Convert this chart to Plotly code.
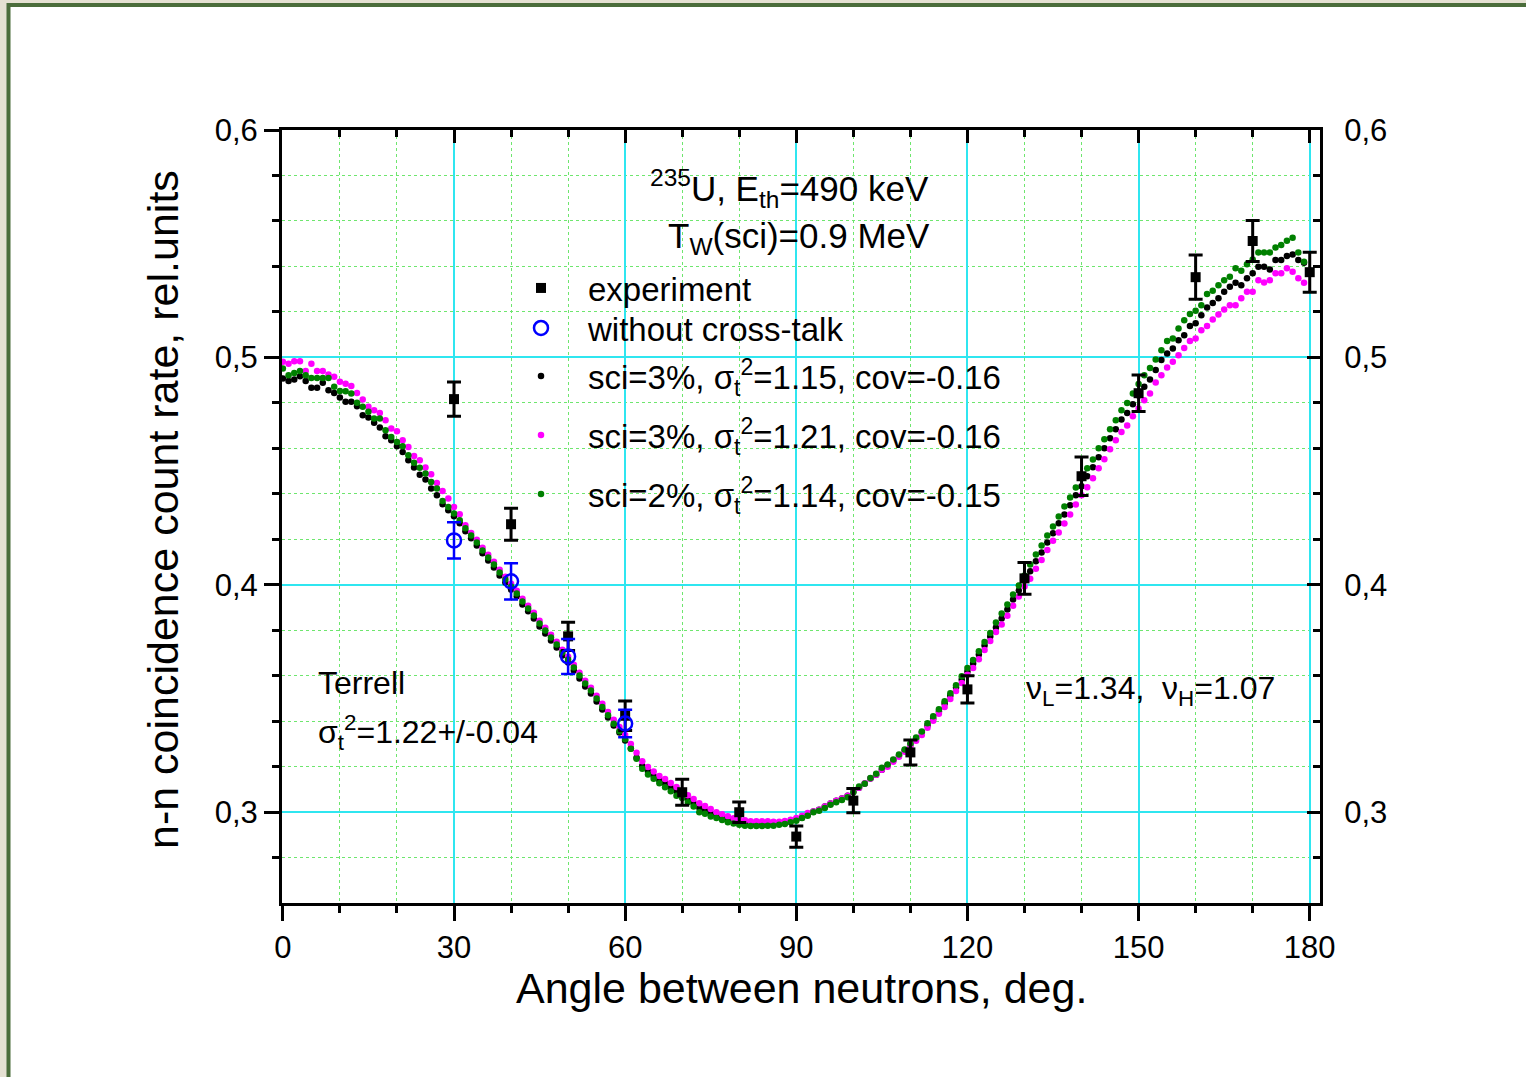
import plotly.graph_objects as go

# ---------------- data ----------------
x_tickvals = [0, 30, 60, 90, 120, 150, 180]
x_ticktext = ["0", "30", "60", "90", "120", "150", "180"]
y_tickvals = [0.3, 0.4, 0.5, 0.6]
y_ticktext = ["0,3", "0,4", "0,5", "0,6"]

exp_angle = [30, 40, 50, 60, 70, 80, 90, 100, 110, 120, 130, 140, 150, 160, 170, 180]
exp_rate = [0.4817, 0.4267, 0.3774, 0.3425, 0.3089, 0.3001, 0.2894, 0.3052,
            0.3264, 0.3541, 0.4029, 0.4478, 0.4843, 0.5353, 0.5512, 0.5375]
exp_err = [0.0075, 0.0070, 0.0062, 0.0065, 0.0057, 0.0045, 0.0047, 0.0053,
           0.0055, 0.0060, 0.0070, 0.0085, 0.0080, 0.0097, 0.0090, 0.0088]

nct_angle = [30, 40, 50, 60]
nct_rate = [0.4196, 0.4016, 0.3686, 0.3391]
nct_err = [0.0080, 0.0080, 0.0077, 0.0060]

# sci=3%, sigma_t^2=1.15, cov=-0.16 (black), one value per degree 0..179
calc_black = [
    0.4908, 0.4897, 0.4903, 0.4918, 0.4897, 0.4867, 0.4867, 0.4889, 0.4856, 0.4844,
    0.4824, 0.4805, 0.4805, 0.4786, 0.4746, 0.4736, 0.4713, 0.4692, 0.4654, 0.4636,
    0.4610, 0.4585, 0.4548, 0.4516, 0.4485, 0.4464, 0.4424, 0.4394, 0.4355,
    0.4328, 0.4302, 0.4271, 0.4236, 0.4205, 0.4174, 0.4139, 0.4108, 0.4077, 0.4042,
    0.4011, 0.3980, 0.3950, 0.3914, 0.3884, 0.3853, 0.3818, 0.3787, 0.3756, 0.3725,
    0.3690, 0.3659, 0.3624, 0.3589, 0.3554, 0.3523, 0.3488, 0.3453, 0.3417, 0.3382,
    0.3351, 0.3316,
    0.3281, 0.3240, 0.3205, 0.3180, 0.3160, 0.3140, 0.3127, 0.3109, 0.3092, 0.3074,
    0.3056, 0.3039, 0.3021, 0.3008, 0.2995, 0.2986, 0.2977, 0.2968, 0.2960, 0.2955,
    0.2951, 0.2946, 0.2946, 0.2946, 0.2946, 0.2951, 0.2951, 0.2955, 0.2960, 0.2968,
    0.2977, 0.2990, 0.3004, 0.3012, 0.3026, 0.3039, 0.3052, 0.3061, 0.3074, 0.3092,
    0.3109, 0.3127, 0.3149, 0.3166, 0.3188, 0.3206,
    0.3228, 0.3250, 0.3272, 0.3298, 0.3325, 0.3351, 0.3382, 0.3413, 0.3444, 0.3479,
    0.3514, 0.3549, 0.3584, 0.3620, 0.3655, 0.3694, 0.3734, 0.3774, 0.3813, 0.3853,
    0.3892, 0.3936, 0.3976, 0.4020, 0.4060, 0.4104, 0.4143, 0.4187, 0.4227, 0.4271,
    0.4310, 0.4350, 0.4394, 0.4434, 0.4478, 0.4517, 0.4561, 0.4601, 0.4645, 0.4684,
    0.4727, 0.4756, 0.4794, 0.4833, 0.4871, 0.4903, 0.4945, 0.4989, 0.5018, 0.5040,
    0.5076, 0.5098, 0.5138, 0.5150, 0.5186, 0.5220, 0.5240, 0.5260, 0.5289, 0.5311,
    0.5328, 0.5318, 0.5348, 0.5370, 0.5399, 0.5399, 0.5387, 0.5428, 0.5428, 0.5446,
    0.5453, 0.5428, 0.5416,
]

# sci=3%, sigma_t^2=1.21, cov=-0.16 (magenta)
calc_magenta = [
    0.4981, 0.4973, 0.4984, 0.4984, 0.4941, 0.4973, 0.4941, 0.4941, 0.4925, 0.4915,
    0.4893, 0.4885, 0.4875, 0.4844, 0.4815, 0.4783, 0.4768, 0.4756, 0.4724, 0.4688,
    0.4676, 0.4636, 0.4607, 0.4567, 0.4548, 0.4516, 0.4487, 0.4448, 0.4413, 0.4380,
    0.4343,
    0.4311, 0.4262, 0.4228, 0.4199, 0.4164, 0.4133, 0.4102, 0.4067, 0.4036, 0.4005,
    0.3975, 0.3939, 0.3909, 0.3878, 0.3843, 0.3812, 0.3781, 0.3750, 0.3715, 0.3684,
    0.3649, 0.3614, 0.3579, 0.3548, 0.3513, 0.3478, 0.3442, 0.3407, 0.3376, 0.3341,
    0.3301, 0.3262, 0.3225, 0.3200, 0.3180, 0.3160, 0.3147, 0.3129, 0.3112, 0.3094,
    0.3076, 0.3059, 0.3041, 0.3028, 0.3015, 0.3001, 0.2992, 0.2983, 0.2975, 0.2970,
    0.2966, 0.2961, 0.2961, 0.2961, 0.2961, 0.2959, 0.2959, 0.2963, 0.2968, 0.2976,
    0.2985, 0.2998,
    0.3004, 0.3012, 0.3026, 0.3039, 0.3052, 0.3061, 0.3074, 0.3092, 0.3109, 0.3127,
    0.3149, 0.3166, 0.3188,
    0.3201, 0.3223, 0.3245, 0.3267, 0.3293, 0.3315, 0.3341, 0.3372, 0.3403, 0.3434,
    0.3464, 0.3499, 0.3534, 0.3569, 0.3605, 0.3635, 0.3674, 0.3714, 0.3754, 0.3793,
    0.3826, 0.3865, 0.3909, 0.3949, 0.3993, 0.4027, 0.4071, 0.4110, 0.4154, 0.4194,
    0.4231, 0.4270, 0.4310, 0.4354, 0.4394, 0.4430, 0.4469, 0.4513, 0.4553, 0.4597,
    0.4636,
    0.4672, 0.4701,
    0.4742, 0.4776, 0.4812, 0.4842, 0.4890, 0.4922, 0.4956, 0.4981, 0.5010, 0.5042,
    0.5073, 0.5083, 0.5120, 0.5138, 0.5167, 0.5189, 0.5211, 0.5230, 0.5230, 0.5260,
    0.5289, 0.5289, 0.5340, 0.5330, 0.5340, 0.5370, 0.5370, 0.5392, 0.5377, 0.5348,
    0.5328,
]

# sci=2%, sigma_t^2=1.14, cov=-0.15 (green)
calc_green = [
    0.4952, 0.4922, 0.4932, 0.4941, 0.4922, 0.4910, 0.4910, 0.4910, 0.4910, 0.4871,
    0.4853, 0.4852, 0.4842, 0.4801, 0.4783, 0.4761, 0.4732, 0.4732, 0.4680, 0.4651,
    0.4629, 0.4610, 0.4570, 0.4537, 0.4515, 0.4490, 0.4453, 0.4424, 0.4369, 0.4343,
    0.4314,
    0.4284, 0.4249, 0.4218, 0.4187, 0.4152, 0.4121, 0.4090, 0.4055, 0.4024, 0.3993,
    0.3963, 0.3927, 0.3897, 0.3866, 0.3831, 0.3800, 0.3769, 0.3738, 0.3703, 0.3672,
    0.3637, 0.3602, 0.3567, 0.3536, 0.3501, 0.3464, 0.3427, 0.3390, 0.3357, 0.3322,
    0.3280, 0.3236,
    0.3192, 0.3167, 0.3148, 0.3128, 0.3111, 0.3093, 0.3074, 0.3064, 0.3045, 0.3026,
    0.3001, 0.2994, 0.2982, 0.2976, 0.2967, 0.2957, 0.2952, 0.2946, 0.2942, 0.2941,
    0.2941, 0.2941, 0.2942, 0.2942, 0.2946, 0.2949, 0.2957, 0.2964, 0.2976, 0.2986,
    0.3001, 0.3008, 0.3020, 0.3034, 0.3045, 0.3055, 0.3067, 0.3089, 0.3114, 0.3126,
    0.3152, 0.3170, 0.3196, 0.3211,
    0.3233, 0.3255, 0.3277, 0.3303, 0.3330, 0.3356, 0.3392, 0.3423, 0.3454, 0.3489,
    0.3524, 0.3559, 0.3599, 0.3635, 0.3670, 0.3709, 0.3749, 0.3789, 0.3835, 0.3875,
    0.3914, 0.3958, 0.3998, 0.4042, 0.4090, 0.4134, 0.4173, 0.4217, 0.4257, 0.4301,
    0.4345, 0.4385, 0.4429, 0.4469, 0.4513, 0.4552, 0.4601, 0.4641, 0.4685, 0.4724,
    0.4768, 0.4800, 0.4842, 0.4883, 0.4922, 0.4954, 0.4991, 0.5032, 0.5073, 0.5083,
    0.5127, 0.5164, 0.5191, 0.5205, 0.5230, 0.5279, 0.5293, 0.5318, 0.5340, 0.5355,
    0.5392, 0.5381, 0.5410, 0.5431, 0.5462, 0.5462, 0.5462, 0.5484, 0.5494, 0.5513,
    0.5526, 0.5462, 0.5421,
]

calc_angle = list(range(len(calc_black)))

# ---------------- layout geometry ----------------
W, H = 1526, 1077
ML, MR, MT, MB = 282, 206, 130, 174
PW, PH = W - ML - MR, H - MT - MB


def fx(p):
    return (p - ML) / PW


def fy(p):
    return 1 - (p - MT) / PH


FONT = "Liberation Sans, Arial, sans-serif"
CYAN = "#2fe6f0"
MINOR_GREEN = "#6ee66e"

fig = go.Figure()

fig.add_trace(go.Scatter(
    x=calc_angle, y=calc_black, mode="markers",
    marker=dict(color="black", size=6.5),
    name="sci=3%, σ<sub>t</sub><sup>2</sup>=1.15, cov=-0.16", legend="legend3"))
fig.add_trace(go.Scatter(
    x=calc_angle, y=calc_magenta, mode="markers",
    marker=dict(color="#ff00ff", size=6.5),
    name="sci=3%, σ<sub>t</sub><sup>2</sup>=1.21, cov=-0.16", legend="legend4"))
fig.add_trace(go.Scatter(
    x=calc_angle, y=calc_green, mode="markers",
    marker=dict(color="#008000", size=6.5),
    name="sci=2%, σ<sub>t</sub><sup>2</sup>=1.14, cov=-0.15", legend="legend5"))
fig.add_trace(go.Scatter(
    x=exp_angle, y=exp_rate, mode="markers",
    marker=dict(color="black", size=10, symbol="square"),
    error_y=dict(type="data", array=exp_err, visible=True, color="black",
                 thickness=3, width=7),
    name="experiment", legend="legend"))
fig.add_trace(go.Scatter(
    x=nct_angle, y=nct_rate, mode="markers",
    marker=dict(color="#0000ff", size=14, symbol="circle-open",
                line=dict(width=2.5)),
    error_y=dict(type="data", array=nct_err, visible=True, color="#0000ff",
                 thickness=2.5, width=7),
    name="without cross-talk", legend="legend2"))
# helper trace so the mirrored top/right axes are drawn
fig.add_trace(go.Scatter(x=[], y=[], xaxis="x2", yaxis="y2", showlegend=False,
                         hoverinfo="skip"))

x_range = [-0.15, 181.8]
y_range = [0.2602, 0.6]

common_axis = dict(
    linecolor="black", linewidth=3, showline=True, zeroline=False,
    tickfont=dict(family=FONT, size=31, color="black"),
    tickcolor="black", tickwidth=3,
)

LEG_FONT = dict(family=FONT, size=33, color="black")
LEG_X = fx(494)


def leg(top_px):
    return dict(x=LEG_X, y=fy(top_px), xanchor="left", yanchor="top",
                bgcolor="rgba(0,0,0,0)", borderwidth=0, font=LEG_FONT,
                itemwidth=84, tracegroupgap=0)


fig.update_layout(
    width=W, height=H,
    margin=dict(l=ML, r=MR, t=MT, b=MB, pad=0),
    paper_bgcolor="#e5e1d2",
    plot_bgcolor="white",
    font=dict(family=FONT, color="black"),
    xaxis=dict(
        range=x_range, tickmode="array", tickvals=x_tickvals, ticktext=x_ticktext,
        ticks="outside", ticklen=15,
        showgrid=True, gridcolor=CYAN, gridwidth=1.5,
        minor=dict(tickmode="linear", tick0=0, dtick=10, ticks="outside", ticklen=7,
                   tickwidth=2.5, tickcolor="black", showgrid=True,
                   gridcolor=MINOR_GREEN, griddash="dot", gridwidth=1.3),
        **common_axis),
    yaxis=dict(
        range=y_range, tickmode="array", tickvals=y_tickvals, ticktext=y_ticktext,
        ticks="outside", ticklen=15,
        showgrid=True, gridcolor=CYAN, gridwidth=1.5,
        minor=dict(tickmode="linear", tick0=0.3, dtick=0.02, ticks="outside", ticklen=7,
                   tickwidth=2.5, tickcolor="black", showgrid=True,
                   gridcolor=MINOR_GREEN, griddash="dot", gridwidth=1.3),
        **common_axis),
    xaxis2=dict(
        overlaying="x", side="top", anchor="y", range=x_range,
        tickmode="array", tickvals=x_tickvals, showticklabels=False,
        ticks="inside", ticklen=13, showgrid=False,
        minor=dict(tickmode="linear", tick0=0, dtick=10, ticks="inside", ticklen=7,
                   tickwidth=2.5, tickcolor="black", showgrid=False),
        **common_axis),
    yaxis2=dict(
        overlaying="y", side="right", anchor="x", range=y_range,
        tickmode="array", tickvals=y_tickvals, ticktext=y_ticktext,
        ticks="inside", ticklen=13, showgrid=False, ticklabelstandoff=15,
        minor=dict(tickmode="linear", tick0=0.3, dtick=0.02, ticks="inside", ticklen=7,
                   tickwidth=2.5, tickcolor="black", showgrid=False),
        **common_axis),
    legend=leg(260),
    legend2=leg(300),
    legend3=leg(348),
    legend4=leg(407),
    legend5=leg(466),
    showlegend=True,
    hovermode=False,
)

# page frame: white sheet with a dark green edge
fig.add_shape(type="rect", xref="paper", yref="paper",
              x0=fx(8.5), x1=fx(1560), y0=fy(1110), y1=fy(5),
              line=dict(color="#4b6d3b", width=4), fillcolor="white", layer="below")

annos = [
    dict(text="<sup>235</sup>U, E<sub>th</sub>=490 keV", x=fx(789), y=fy(188),
         xanchor="center", yanchor="middle", size=35),
    dict(text="T<sub>W</sub>(sci)=0.9 MeV", x=fx(799), y=fy(238),
         xanchor="center", yanchor="middle", size=35),
    dict(text="Terrell", x=fx(316), y=fy(683), xanchor="left", yanchor="middle", size=32),
    dict(text="σ<sub>t</sub><sup>2</sup>=1.22+/-0.04", x=fx(316), y=fy(732),
         xanchor="left", yanchor="middle", size=32),
    dict(text="ν<sub>L</sub>=1.34,  ν<sub>H</sub>=1.07", x=fx(1024), y=fy(690),
         xanchor="left", yanchor="middle", size=32),
]
for a in annos:
    fig.add_annotation(text=a["text"], x=a["x"], y=a["y"], xref="paper", yref="paper",
                       xanchor=a["xanchor"], yanchor=a["yanchor"], showarrow=False,
                       font=dict(family=FONT, size=a["size"], color="black"))

# axis titles
fig.add_annotation(text="Angle between neutrons, deg.", x=fx(801), y=fy(988),
                   xref="paper", yref="paper", xanchor="center", yanchor="middle",
                   showarrow=False, font=dict(family=FONT, size=43, color="black"))
fig.add_annotation(text="n-n coincidence count rate, rel.units", x=fx(163), y=fy(510),
                   xref="paper", yref="paper", xanchor="center", yanchor="middle",
                   textangle=-90, showarrow=False,
                   font=dict(family=FONT, size=43, color="black"))

fig.write_html("out.html")
